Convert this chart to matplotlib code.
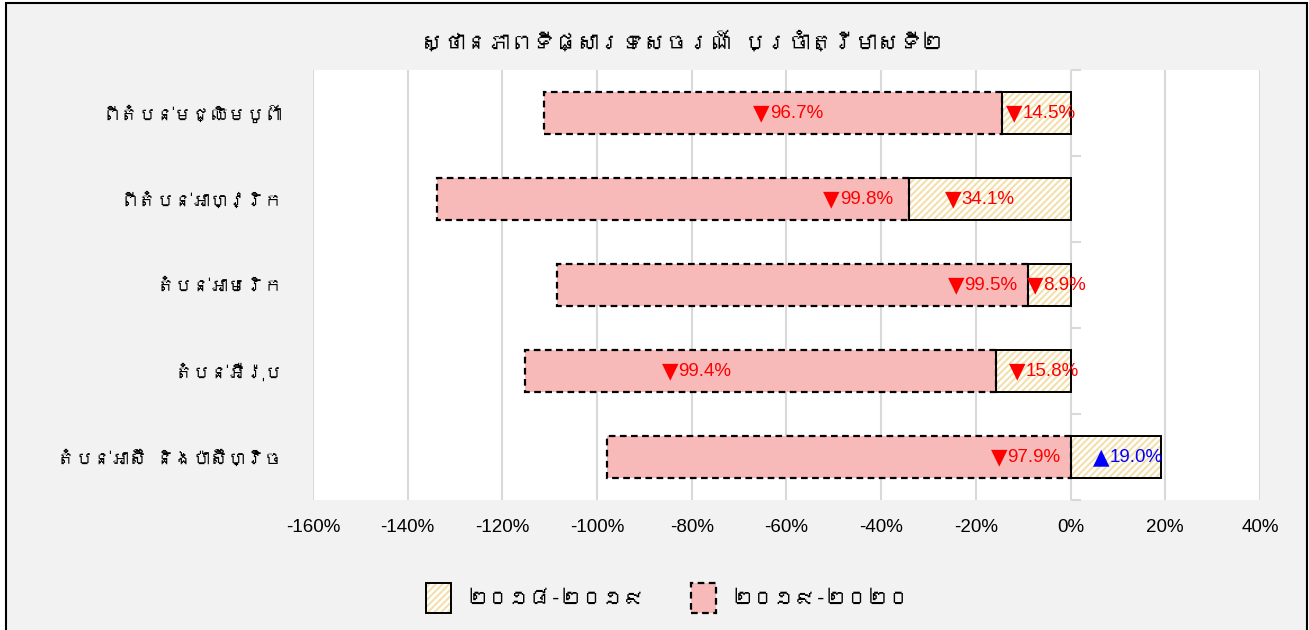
import matplotlib
matplotlib.use('Agg')
import matplotlib.pyplot as plt
from matplotlib.patches import Patch, Rectangle
from matplotlib.legend_handler import HandlerTuple
from matplotlib import font_manager
from matplotlib.ft2font import FT2Font
from matplotlib.transforms import offset_copy
import numpy as np

# data
regions = ['ពីតំបន់មជ្ឈិមបូព៌ា', 'ពីតំបន់អាហ្វ្រិក', 'តំបន់អាមេរិក',
           'តំបន់អឺរ៉ុប', 'តំបន់អាស៊ី និងប៉ាស៊ីហ្វិច']
chg_1819 = [-14.5, -34.1, -8.9, -15.8, 19.0]
chg_1920 = [-96.7, -99.8, -99.5, -99.4, -97.9]
series_names = ['២០១៨-២០១៩', '២០១៩-២០២០']
title = 'ស្ថានភាពទីផ្សារទេសចរណ៍ ប្រចាំត្រីមាសទី២'
xticks = np.arange(-160, 41, 20)

# where the data labels sit (x, in %), placed by hand like in the original
lab_x_1819 = [-7.0, -19.9, -2.5, -6.3, 11.4]
lab_x_1920 = [-60.3, -45.5, -19.2, -79.6, -10.1]


def find_family(cp):
    for f in font_manager.fontManager.ttflist:
        try:
            if cp in FT2Font(f.fname).get_charmap():
                return f.name
        except Exception:
            pass
    return None


names = {f.name for f in font_manager.fontManager.ttflist}
khmer = find_family(0x1780)
kh_fonts = [khmer, 'DejaVu Sans'] if khmer else ['DejaVu Sans']
if 'Liberation Sans Narrow' in names:
    num_fonts = ['Liberation Sans Narrow', 'DejaVu Sans']
    num_size = 16
else:
    num_fonts = ['Liberation Sans', 'DejaVu Sans']
    num_size = 13.5

plt.rcParams['hatch.linewidth'] = 1.4

W, H = 1309, 630
fig = plt.figure(figsize=(W / 100, H / 100), dpi=100, facecolor='white')
fig.add_artist(Rectangle((6 / W, -0.05), (1307 - 6) / W, 1.05 - 3 / H,
                         transform=fig.transFigure, facecolor='#f2f2f2',
                         edgecolor='black', lw=1.5, zorder=-5))

ax = fig.add_axes([313 / W, 1 - 500 / H, (1260 - 313) / W, 430 / H])
ax.set_facecolor('white')

y = np.arange(len(regions))
h = 0.48
yellow_hatch = '#f3dea6'
pink = '#f8b9b9'

# 2018-2019: hatched fill + solid outline
ax.barh(y, chg_1819, height=h, color='white', edgecolor=yellow_hatch,
        hatch='/////', lw=0, zorder=2)
ax.barh(y, chg_1819, height=h, fill=False, edgecolor='black', lw=1.4, zorder=3)

# 2019-2020 stacked beyond the first segment (starts at 0 if that one is up)
left = np.minimum(chg_1819, 0)
ax.barh(y, chg_1920, left=left, height=h, color=pink, edgecolor='black',
        ls=(0, (3, 2)), lw=1.6, zorder=2)

# labels: big triangle (DejaVu) + number, centred together on the given x
tri_tr = offset_copy(ax.transData, fig=fig, x=-11, units='points')


def put_label(x, yy, v):
    col = 'blue' if v > 0 else 'red'
    ax.text(x, yy, '▲' if v > 0 else '▼', transform=tri_tr, ha='right',
            va='center', color=col, fontsize=num_size + 2,
            family='DejaVu Sans', zorder=5)
    ax.text(x, yy, f'{abs(v):.1f}%', transform=tri_tr, ha='left',
            va='center', color=col, fontsize=num_size, family=num_fonts,
            zorder=5)


for i in range(len(regions)):
    put_label(lab_x_1819[i], y[i], chg_1819[i])
    put_label(lab_x_1920[i], y[i], chg_1920[i])

ax.set_xlim(-160, 40)
ax.set_ylim(len(regions) - 0.5, -0.5)
ax.set_xticks(xticks)
ax.set_xticklabels([f'{t}%' for t in xticks], fontsize=num_size, family=num_fonts)
ax.set_yticks(y)
ax.set_yticklabels(regions, fontsize=13, family=kh_fonts)
ax.tick_params(axis='x', length=0, pad=14)
ax.tick_params(axis='y', length=0, pad=22)
ax.grid(axis='x', color='#d9d9d9', lw=1.5, zorder=0)
ax.set_axisbelow(True)
for s in ax.spines.values():
    s.set_visible(False)
# little category tick marks on the 0% axis
ax.hlines(np.arange(len(regions) + 1) - 0.5, 0, 2.2, color='#d9d9d9', lw=1.5,
          zorder=1, clip_on=False)

fig.text(682 / W, 1 - 42 / H, title, ha='center', va='center', fontsize=16,
         family=kh_fonts)

h1 = (Patch(facecolor='white', edgecolor=yellow_hatch, hatch='/////', lw=0),
      Patch(fill=False, edgecolor='black', lw=1.4))
h2 = Patch(facecolor=pink, edgecolor='black', ls=(0, (3, 2)), lw=1.6)
fig.legend([h1, h2], series_names, loc='center', ncol=2,
           bbox_to_anchor=(668 / W, 1 - 598 / H), frameon=False,
           handler_map={tuple: HandlerTuple(ndivide=1)},
           prop={'family': kh_fonts, 'size': 15},
           handlelength=1.2, handleheight=1.8, columnspacing=2.2,
           handletextpad=0.8)

fig.savefig('out.png', dpi=100, facecolor=fig.get_facecolor())
